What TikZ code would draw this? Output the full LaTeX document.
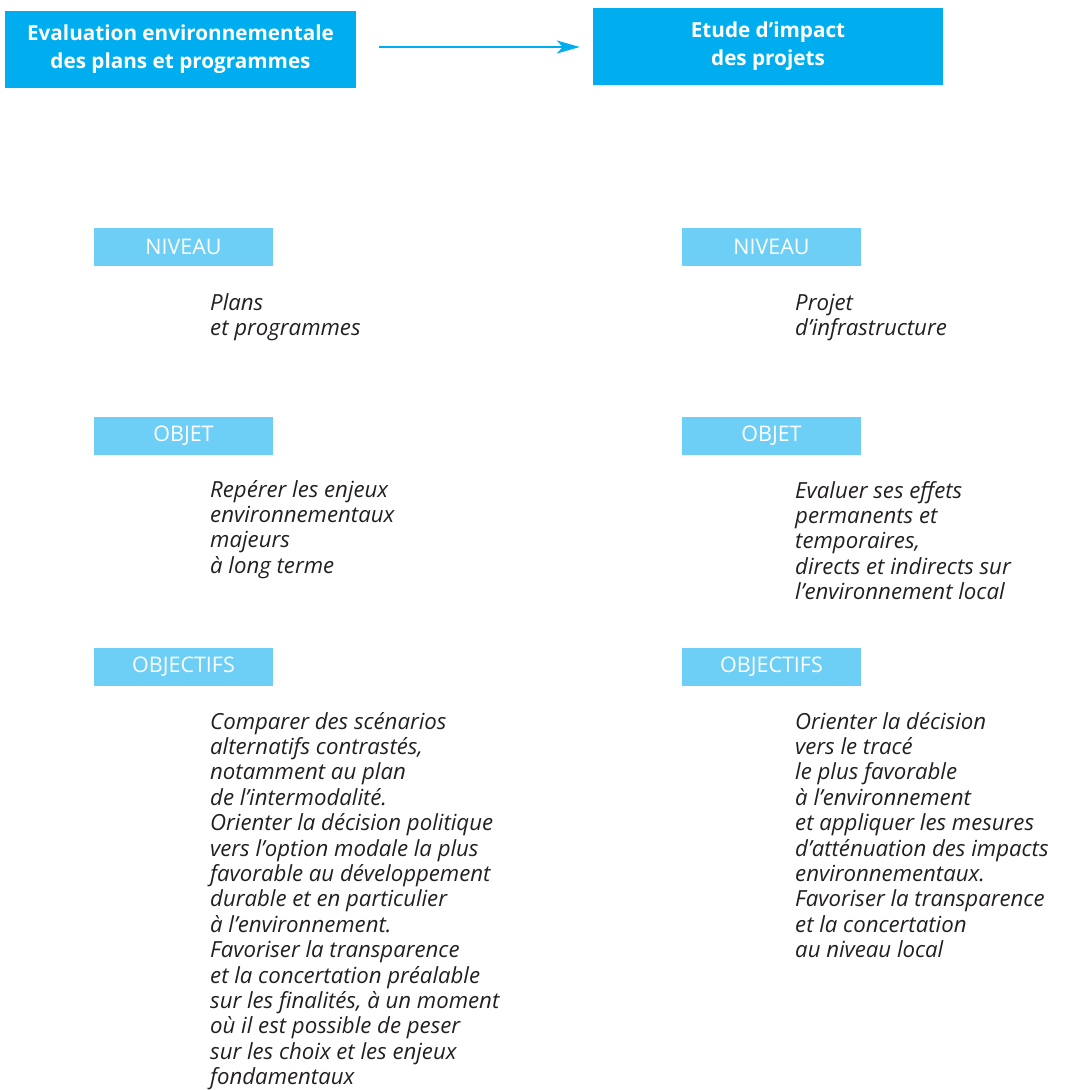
\documentclass[tikz,border=0pt]{standalone}
\usepackage{fontspec}
\setmainfont{Open Sans}
\usetikzlibrary{arrows.meta}
\definecolor{darkcyan}{HTML}{00AEEF}
\definecolor{lightcyan}{HTML}{6DCFF6}
\definecolor{bodytext}{HTML}{231F20}
\tikzset{
  titlebox/.style={fill=darkcyan, draw=none, text=white, align=center, inner sep=0pt,
    minimum height=77pt, font=\fontsize{20.7}{28}\selectfont\bfseries},
  labelbox/.style={fill=lightcyan, draw=none, text=white, inner sep=0pt,
    minimum width=179pt, minimum height=38pt, font=\fontsize{21.5}{24}\selectfont},
  bodytxt/.style={anchor=north west, inner sep=0pt, align=left, text=bodytext,
    font=\fontsize{22.2}{25.4}\selectfont\itshape},
  arr/.style={draw=darkcyan, line width=2pt, -{Stealth[length=23pt, width=13pt, inset=6pt]}}
}
\begin{document}
\begin{tikzpicture}[x=1pt, y=-1pt]
\useasboundingbox (0,0) rectangle (1069,1090);

\node[titlebox, minimum width=351pt] (box1) at (180.5,49.5) {Evaluation environnementale\\des plans et programmes};
\node[titlebox, minimum width=350pt] (box2) at (768,46.5) {Etude d’impact\\des projets};
\draw[arr, shorten <=23pt, shorten >=13pt] ([yshift=2.5pt]box1.east) -- ([yshift=2.5pt]box1.east -| box2.west);

% left column
\node[labelbox] (lniv) at (183.5,247) {NIVEAU};
\node[bodytxt] (ltniv) at (210,292.2) {\strut Plans\\et programmes};
\node[labelbox] (lobj) at (183.5,436) {OBJET};
\node[bodytxt] (ltobj) at (210,479.2) {\strut Repérer les enjeux\\environnementaux\\majeurs\\à long terme};
\node[labelbox] (lobjs) at (183.5,667) {OBJECTIFS};
\node[bodytxt] (ltobjs) at (210,711.2) {\strut Comparer des scénarios\\alternatifs contrastés,\\notamment au plan\\de l’intermodalité.\\Orienter la décision politique\\vers l’option modale la plus\\favorable au développement\\durable et en particulier\\à l’environnement.\\Favoriser la transparence\\et la concertation préalable\\sur les finalités, à un moment\\où il est possible de peser\\sur les choix et les enjeux\\fondamentaux};

% right column
\node[labelbox] (rniv) at (771.5,247) {NIVEAU};
\node[bodytxt] (rtniv) at (795,292.2) {\strut Projet\\d’infrastructure};
\node[labelbox] (robj) at (771.5,436) {OBJET};
\node[bodytxt] (rtobj) at (795,480.2) {\strut Evaluer ses effets\\permanents et\\temporaires,\\directs et indirects sur\\l’environnement local};
\node[labelbox] (robjs) at (771.5,667) {\raisebox{2pt}{OBJECTIFS}};
\node[bodytxt] (rtobjs) at (795,711.2) {\strut Orienter la décision\\vers le tracé\\le plus favorable\\à l’environnement\\et appliquer les mesures\\d’atténuation des impacts\\environnementaux.\\Favoriser la transparence\\et la concertation\\au niveau local};
\end{tikzpicture}
\end{document}
